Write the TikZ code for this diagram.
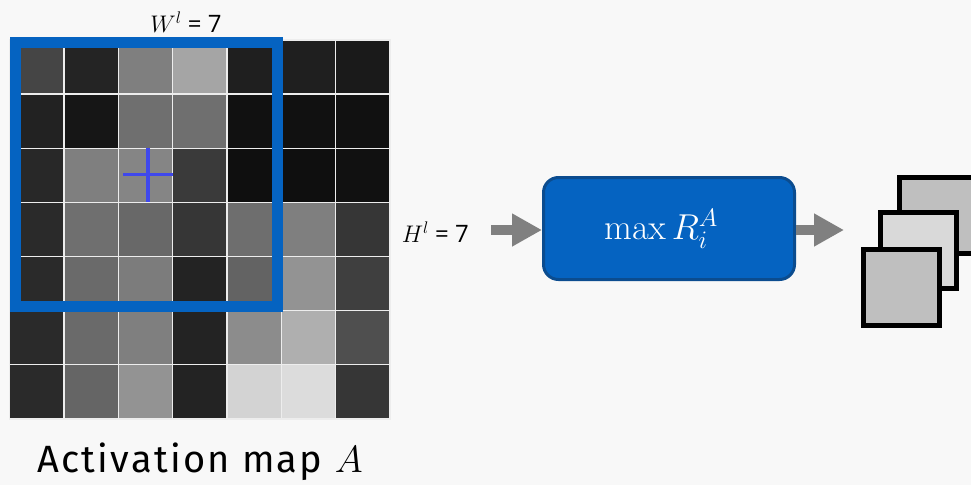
\RequirePackage{fix-cm}
\documentclass[tikz,border=0pt]{standalone}
\usepackage[no-math]{fontspec}
\setmainfont{Open Sans}
\newfontfamily\actfont[LetterSpace=6]{Fira Sans}
\usetikzlibrary{arrows.meta}
\definecolor{bg}{HTML}{F8F8F8}
\definecolor{boxblue}{HTML}{0563C1}
\definecolor{boxborder}{HTML}{0B4C8F}
\definecolor{framecol}{HTML}{0563C1}
\definecolor{pluscol}{RGB}{63,72,236}
\definecolor{arrowgray}{HTML}{808080}
\definecolor{gridline}{HTML}{EDEDED}
\definecolor{sqdark}{HTML}{BFBFBF}
\definecolor{sqlight}{HTML}{D9D9D9}
\tikzset{
  cellbox/.style={draw=gridline, line width=1.3pt},
  blockarrow/.style={draw=arrowgray, line width=10pt, -{Triangle[width=31pt,length=30pt]}},
  stackbox/.style={draw=black, line width=5pt},
  lbl/.style={inner sep=0pt, font=\fontsize{24}{28}\selectfont},
}
\begin{document}
\begin{tikzpicture}[x=1pt,y=-1pt]
\fill[bg] (0,0) rectangle (971,485);
\useasboundingbox (0,0) rectangle (971,485);
\clip (0,0) rectangle (971,485);
% activation map grid
\foreach \row [count=\r] in {
  {69,36,127,165,31,31,26},
  {34,22,111,111,17,17,17},
  {40,127,133,58,15,15,17},
  {42,111,104,54,110,127,54},
  {42,106,124,35,99,147,63},
  {42,106,127,35,140,175,79},
  {42,101,147,35,211,220,54}} {
  \foreach \v [count=\c] in \row {
    \definecolor{cellc}{RGB}{\v,\v,\v}
    \filldraw[cellbox, fill=cellc] ({9.5+(\c-1)*54.36},{40+(\r-1)*54.14}) rectangle ++(54.36,54.14);
  }
}
% receptive frame
\draw[framecol, line width=11pt] (15,42.5) rectangle (277.5,306.5);
% plus
\draw[pluscol, line width=3.5pt] (123,174.5) -- (173,174.5) (148,148) -- (148,202);
% labels
\node[lbl] (wlab) at (186,22) {$W^l$ = 7};
\node[lbl, anchor=east] (hlab) at (469,232) {$H^l$ = 7};
\node[inner sep=0pt, font=\actfont\fontsize{38}{42}\selectfont] (actlab) at (200,462) {Activation map $A$};
% box
\node[draw=boxborder, fill=boxblue, line width=3pt, rounded corners=15pt,
      minimum width=251pt, minimum height=102pt, inner sep=0pt,
      text=white, font=\fontsize{36}{40}\selectfont] (maxbox) at (669,228.5) {\kern-16pt\raisebox{2pt}{$\max R_i^A$}};
\coordinate (a1) at (491,230);
\coordinate (a2) at (844,230);
\draw[blockarrow] (a1) -- (a1 -| maxbox.west);
\draw[blockarrow] (a2 -| maxbox.east) -- (a2);
% stacked maps
\filldraw[stackbox, fill=sqdark] (899.5,177.5) rectangle (975.5,253.5);
\filldraw[stackbox, fill=sqlight] (880.5,212.5) rectangle (956.5,288.5);
\filldraw[stackbox, fill=sqdark] (863.5,249.5) rectangle (939.5,325.5);
\end{tikzpicture}
\end{document}
